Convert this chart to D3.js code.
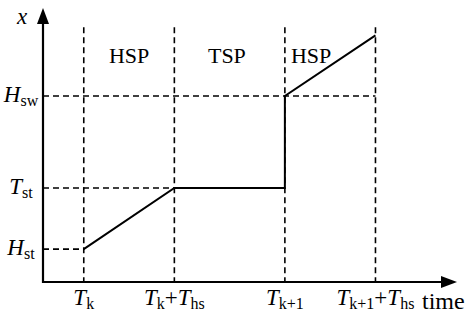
<!DOCTYPE html>
<html><head><meta charset="utf-8">
<script src="https://cdn.jsdelivr.net/npm/d3@7"></script>
<style>html,body{margin:0;padding:0;background:#fff;}svg{display:block;}
text{font-family:"Liberation Serif","Times New Roman",Times,serif;}</style>
</head><body>
<script>
// ---- data ----
// label parts: [text, kind]  kind: i = italic, s = subscript, n = normal
const timeLabels = [
  [["T","i"],["k","s"]],
  [["T","i"],["k","s"],["+","n"],["T","i"],["hs","s"]],
  [["T","i"],["k+1","s"]],
  [["T","i"],["k+1","s"],["+","n"],["T","i"],["hs","s"]]
];
const timeValues = [0.45, 1.45, 2.67, 3.67];
const levelLabels = [[["H","i"],["st","s"]], [["T","i"],["st","s"]], [["H","i"],["sw","s"]]];
const levelValues = [1.2, 3.43, 6.79];
const trajT = [0.45, 1.45, 2.67, 2.67, 3.67];
const trajX = [1.2, 3.43, 3.43, 6.79, 9.0];
const phaseLabels = ["HSP", "TSP", "HSP"];
const phaseT = [0.95, 2.03, 2.96];
const phaseY = 8.0;
const axisMaxT = 4.57, axisMaxX = 10, dashTopX = 9.3;

const W = 474, H = 324;
const svg = d3.select("body").append("svg").attr("width", W).attr("height", H);
const x = d3.scaleLinear().domain([0, axisMaxT]).range([43, 457]);
const y = d3.scaleLinear().domain([0, axisMaxX]).range([282, 8]);

// dashed verticals
svg.selectAll("line.v").data(timeValues).enter().append("line")
  .attr("x1", d => x(d)).attr("x2", d => x(d))
  .attr("y1", y(dashTopX)).attr("y2", y(0))
  .attr("stroke", "#000").attr("stroke-width", 1.6).attr("stroke-dasharray", "6,4");
// dashed horizontals
const hEnds = [timeValues[0], timeValues[1], timeValues[3]];
svg.selectAll("line.h").data(levelValues).enter().append("line")
  .attr("x1", x(0)).attr("x2", (d, i) => x(hEnds[i]))
  .attr("y1", d => y(d)).attr("y2", d => y(d))
  .attr("stroke", "#000").attr("stroke-width", 1.6).attr("stroke-dasharray", "6,4");

// trajectory
const line = d3.line().x(d => x(d[0])).y(d => y(d[1]));
svg.append("path").datum(trajT.map((t, i) => [t, trajX[i]]))
  .attr("d", line).attr("fill", "none").attr("stroke", "#000").attr("stroke-width", 2);

// axes
svg.append("line").attr("x1", x(0)).attr("x2", x(axisMaxT) - 12).attr("y1", y(0)).attr("y2", y(0))
  .attr("stroke", "#000").attr("stroke-width", 2.2);
svg.append("line").attr("x1", x(0)).attr("x2", x(0)).attr("y1", y(0) + 1).attr("y2", y(axisMaxX) + 12)
  .attr("stroke", "#000").attr("stroke-width", 2.2);
svg.append("path").attr("d", `M${x(axisMaxT)},${y(0)} L${x(axisMaxT) - 16},${y(0) - 6} L${x(axisMaxT) - 16},${y(0) + 6} Z`);
svg.append("path").attr("d", `M${x(0)},${y(axisMaxX)} L${x(0) - 6},${y(axisMaxX) + 16} L${x(0) + 6},${y(axisMaxX) + 16} Z`);

function mathText(parts, xPos, yPos, anchor) {
  const t = svg.append("text").attr("x", xPos).attr("y", yPos)
    .attr("font-size", 23).attr("text-anchor", anchor);
  let sub = false;
  parts.forEach(([txt, kind]) => {
    const span = t.append("tspan").text(txt);
    if (kind === "s") {
      span.attr("font-size", 16);
      if (!sub) span.attr("dy", 4);
      sub = true;
    } else {
      if (sub) span.attr("dy", -4);
      sub = false;
      if (kind === "i") span.attr("font-style", "italic");
    }
  });
  return t;
}

// bottom labels
timeLabels.forEach((lab, i) => mathText(lab, x(timeValues[i]), 305, "middle"));
// left labels
levelLabels.forEach((lab, i) => mathText(lab, 21, y(levelValues[i]) + 6, "middle"));

svg.append("text").attr("x", 422).attr("y", 309).attr("font-size", 24).text("time");
svg.append("text").attr("x", 22).attr("y", 24).attr("font-size", 23)
  .attr("font-style", "italic").attr("text-anchor", "middle").text("x");

svg.selectAll("text.p").data(phaseLabels).enter().append("text")
  .attr("x", (d, i) => x(phaseT[i])).attr("y", y(phaseY))
  .attr("font-size", 22).attr("text-anchor", "middle").text(d => d);
</script>
</body></html>
